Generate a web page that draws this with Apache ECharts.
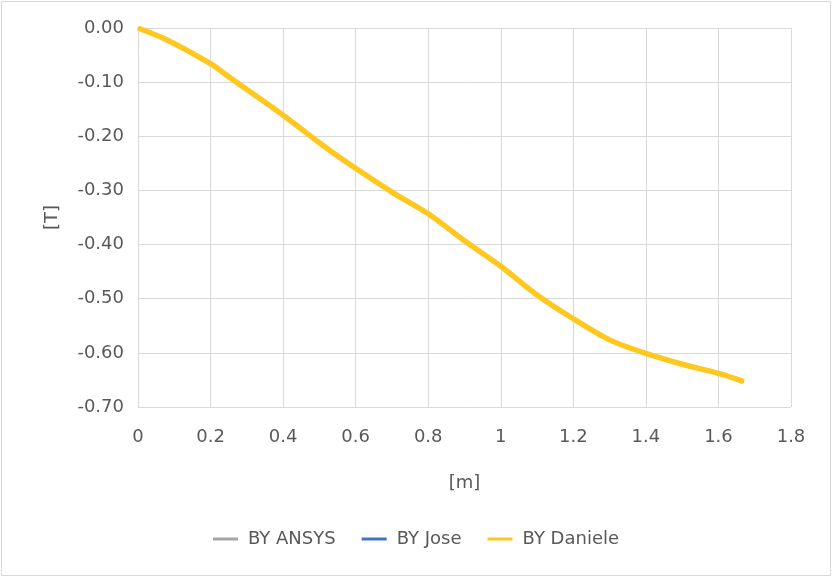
<!DOCTYPE html>
<html>
<head>
<meta charset="utf-8">
<script src="https://cdn.jsdelivr.net/npm/echarts@6/dist/echarts.min.js"></script>
<style>
  html, body { margin: 0; padding: 0; background: #fff; }
  #frame { position: absolute; left: 1px; top: 1px; width: 828px; height: 573px; border: 1px solid #d9d9d9; }
  #chart { position: absolute; left: 0; top: 0; width: 832px; height: 577px; }
</style>
</head>
<body>
<div id="frame"></div>
<div id="chart"></div>
<script>
// Position along the conductor [m]
const positions = [0, 0.08, 0.2, 0.25, 0.4, 0.5, 0.56, 0.7, 0.8, 0.9, 1.0, 1.1, 1.2, 1.3, 1.4, 1.5, 1.6, 1.67];
// Magnetic flux density BY [T]
const byAnsys   = [0, -0.022, -0.066, -0.09, -0.161, -0.212, -0.241, -0.303, -0.343, -0.393, -0.44, -0.493, -0.537, -0.576, -0.601, -0.621, -0.638, -0.653];
const byJose    = [0, -0.022, -0.066, -0.09, -0.161, -0.212, -0.241, -0.303, -0.343, -0.393, -0.44, -0.493, -0.537, -0.576, -0.601, -0.621, -0.638, -0.653];
const byDaniele = [0, -0.022, -0.066, -0.09, -0.161, -0.212, -0.241, -0.303, -0.343, -0.393, -0.44, -0.493, -0.537, -0.576, -0.601, -0.621, -0.638, -0.653];
const seriesNames = ['BY ANSYS', 'BY Jose', 'BY Daniele'];
const seriesColors = ['#a5a5a5', '#4472c4', '#ffc820'];

const pairs = ys => positions.map((x, i) => [x, ys[i]]);
const font = '"DejaVu Sans", sans-serif';
const fontSize = 18;
const textColor = '#595959';
const gridColor = '#d9d9d9';

const chart = echarts.init(document.getElementById('chart'), null, { renderer: 'canvas' });
chart.setOption({
  animation: false,
  backgroundColor: 'transparent',
  color: seriesColors,
  grid: { left: 138, right: 41, top: 28, bottom: 170, containLabel: false },
  legend: {
    top: 525,
    left: 'center',
    icon: 'rect',
    itemWidth: 25,
    itemHeight: 3,
    itemGap: 26,
    textStyle: { color: textColor, fontSize: fontSize, fontFamily: font, padding: [0, 0, 0, 5] },
    data: seriesNames
  },
  xAxis: {
    type: 'value',
    min: 0, max: 1.8, interval: 0.2,
    name: '[m]',
    nameLocation: 'middle',
    nameGap: 67,
    nameTextStyle: { color: textColor, fontSize: fontSize, fontFamily: font },
    axisLine: { show: true, lineStyle: { color: gridColor, width: 1 } },
    axisTick: { show: false },
    axisLabel: {
      color: textColor, fontSize: fontSize, fontFamily: font, margin: 21,
      formatter: v => String(Math.round(v * 10) / 10)
    },
    splitLine: { show: true, lineStyle: { color: gridColor, width: 1 } }
  },
  yAxis: {
    type: 'value',
    min: -0.7, max: 0, interval: 0.1,
    name: '[T]',
    nameLocation: 'middle',
    nameGap: 77,
    nameRotate: 90,
    nameTextStyle: { color: textColor, fontSize: fontSize, fontFamily: font },
    axisLine: { show: true, lineStyle: { color: gridColor, width: 1 } },
    axisTick: { show: false },
    axisLabel: {
      color: textColor, fontSize: fontSize, fontFamily: font, margin: 14,
      padding: [6, 0, 0, 0],
      formatter: v => v.toFixed(2)
    },
    splitLine: { show: true, lineStyle: { color: gridColor, width: 1 } }
  },
  series: [
    { name: seriesNames[0], type: 'line', data: pairs(byAnsys), smooth: 0.3, symbol: 'none', lineStyle: { width: 2, color: seriesColors[0] }, z: 1 },
    { name: seriesNames[1], type: 'line', data: pairs(byJose), smooth: 0.3, symbol: 'none', lineStyle: { width: 2, color: seriesColors[1] }, z: 2 },
    { name: seriesNames[2], type: 'line', data: pairs(byDaniele), smooth: 0.3, symbol: 'none', lineStyle: { width: 5.5, color: seriesColors[2], cap: 'butt' }, z: 3 }
  ]
});
</script>
</body>
</html>
